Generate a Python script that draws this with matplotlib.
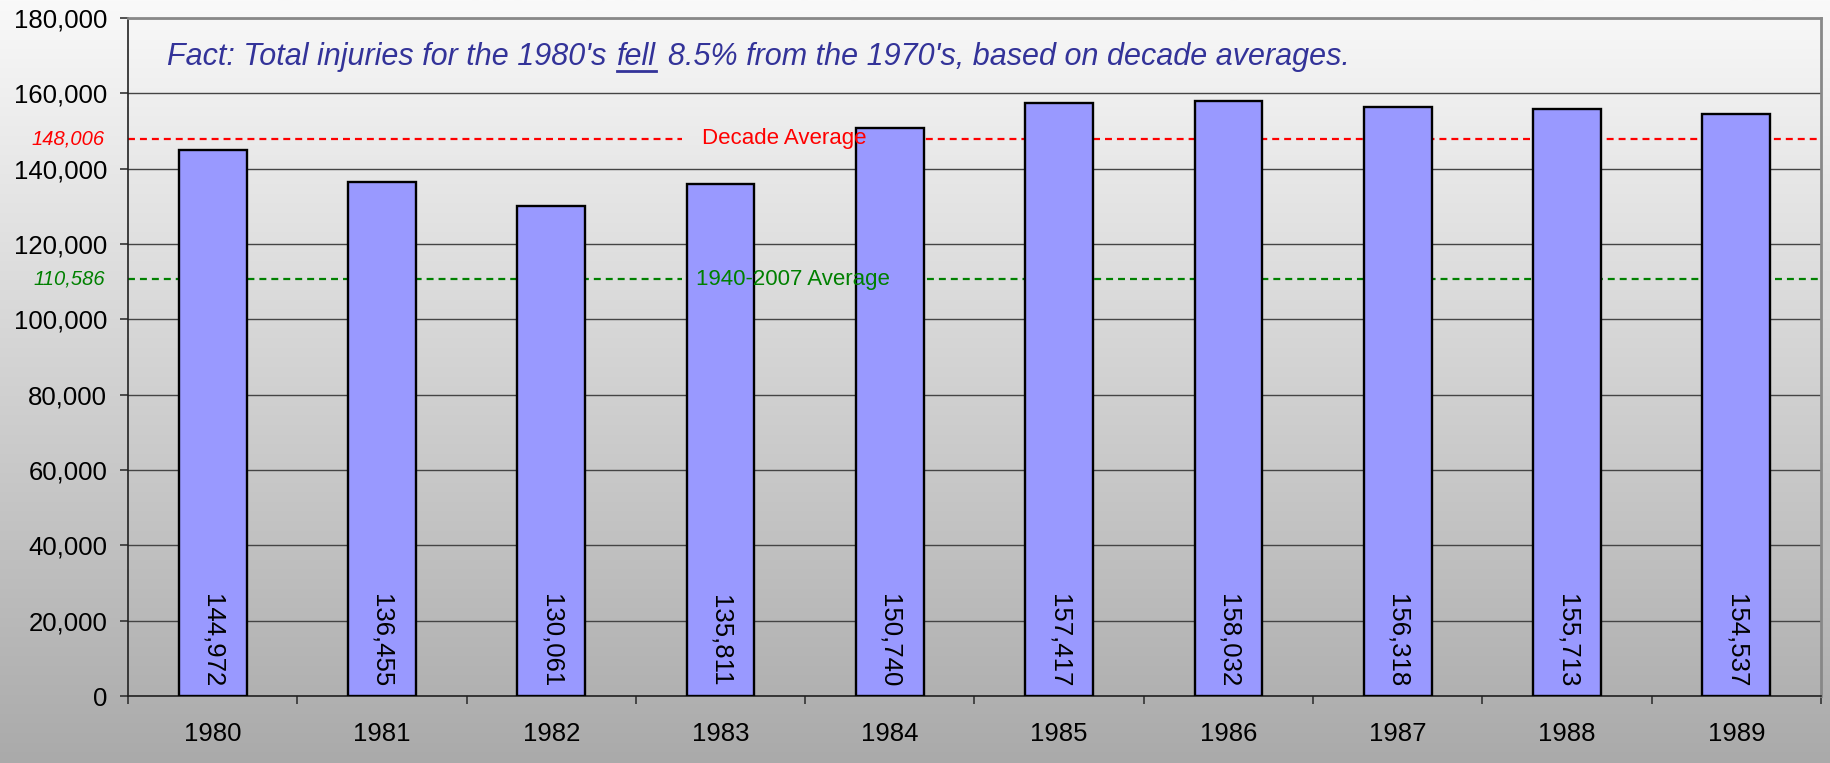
import numpy as np
import matplotlib
matplotlib.use("Agg")
import matplotlib.pyplot as plt
from matplotlib.transforms import blended_transform_factory

plt.rcParams['font.family'] = ['Liberation Sans', 'DejaVu Sans']
plt.rcParams['lines.scale_dashes'] = False

# Data
years = ["1980", "1981", "1982", "1983", "1984", "1985", "1986", "1987", "1988", "1989"]
injuries = [144972, 136455, 130061, 135811, 150740, 157417, 158032, 156318, 155713, 154537]
decade_average = 148006
long_term_average = 110586
y_ticks = [0, 20000, 40000, 60000, 80000, 100000, 120000, 140000, 160000, 180000]

W, H = 1831, 763
fig = plt.figure(figsize=(W / 100, H / 100), dpi=100)

# Vertical grey gradient behind everything
bg = fig.add_axes([0, 0, 1, 1], zorder=-10)
grad = np.linspace(249, 170, 400).reshape(-1, 1) / 255.0
bg.imshow(np.dstack([grad, grad, grad]), aspect='auto', extent=[0, 1, 0, 1])
bg.set_axis_off()

ax = fig.add_axes([128 / W, 1 - 696 / H, (1821 - 128) / W, (696 - 18) / H])
ax.patch.set_alpha(0)

x = np.arange(len(years))
ax.bar(x, injuries, width=0.4, color='#9999ff', edgecolor='black', linewidth=1.7, zorder=3)

ax.set_xlim(-0.5, len(years) - 0.5)
ax.set_ylim(0, 180000)
ax.set_yticks(y_ticks)
ax.set_yticklabels([f"{v:,}" for v in y_ticks], fontsize=18.5)
ax.yaxis.grid(True, color='#444444', linewidth=1.0, zorder=0)
ax.set_axisbelow(True)

# Category boundaries carry the ticks, centres carry the labels
ax.set_xticks(np.arange(-0.5, len(years), 1.0))
ax.set_xticklabels([])
ax.set_xticks(x, minor=True)
ax.set_xticklabels(years, minor=True, fontsize=18.5)
ax.tick_params(axis='x', which='major', direction='out', length=6, width=1.2, color='#333333')
ax.tick_params(axis='x', which='minor', length=0, pad=19)
ax.tick_params(axis='y', direction='out', length=6, width=1.2, color='#333333', pad=9)

for side in ('left', 'bottom'):
    ax.spines[side].set_color('#222222')
    ax.spines[side].set_linewidth(1.2)
for side in ('top', 'right'):
    ax.spines[side].set_color('#888888')
    ax.spines[side].set_linewidth(2.0)

# Value labels inside the bars
for xi, v in zip(x, injuries):
    ax.text(xi, 2400, f"{v:,}", rotation=-90, ha='center', va='bottom',
            fontsize=18.5, color='black', zorder=4)

# Reference lines with a gap for their captions
dash = (0, (5, 3.6))
ax.hlines(decade_average, -0.5, 2.77, colors='#ff0000', linestyles=dash, linewidth=1.6, zorder=2)
ax.hlines(decade_average, 4.0, 9.5, colors='#ff0000', linestyles=dash, linewidth=1.6, zorder=2)
ax.text(3.375, decade_average, "Decade Average", color='#ff0000', fontsize=16,
        ha='center', va='center', zorder=4)

ax.hlines(long_term_average, -0.5, 2.77, colors='#008000', linestyles=dash, linewidth=1.6, zorder=2)
ax.hlines(long_term_average, 4.15, 9.5, colors='#008000', linestyles=dash, linewidth=1.6, zorder=2)
ax.text(3.43, long_term_average, "1940-2007 Average", color='#008000', fontsize=16,
        ha='center', va='center', zorder=4)

trans = blended_transform_factory(ax.transAxes, ax.transData)
ax.text(-23 / 1693, decade_average, f"{decade_average:,}", transform=trans, color='#ff0000',
        fontsize=14.5, style='italic', ha='right', va='center')
ax.text(-23 / 1693, long_term_average, f"{long_term_average:,}", transform=trans, color='#008000',
        fontsize=14.5, style='italic', ha='right', va='center')

# Headline with an underlined word, laid out piece by piece
title_color = '#333399'
title_size = 22
renderer = fig.canvas.get_renderer()
baseline = 1 - 65 / H
parts = ["Fact: Total injuries for the 1980's", "fell",
         "8.5% from the 1970's, based on decade averages."]
gaps = [0, 11, 12]
cursor = 167
for txt, gap in zip(parts, gaps):
    cursor += gap
    t = fig.text(cursor / W, baseline, txt, fontsize=title_size, style='italic',
                 color=title_color, ha='left', va='baseline')
    bb = t.get_window_extent(renderer)
    if txt == "fell":
        uy = 1 - 71 / H
        fig.add_artist(plt.Line2D([bb.x0 / W, bb.x1 / W], [uy, uy], color=title_color,
                                  linewidth=2.0, transform=fig.transFigure))
    cursor = bb.x1

fig.savefig("out.png", dpi=100)
